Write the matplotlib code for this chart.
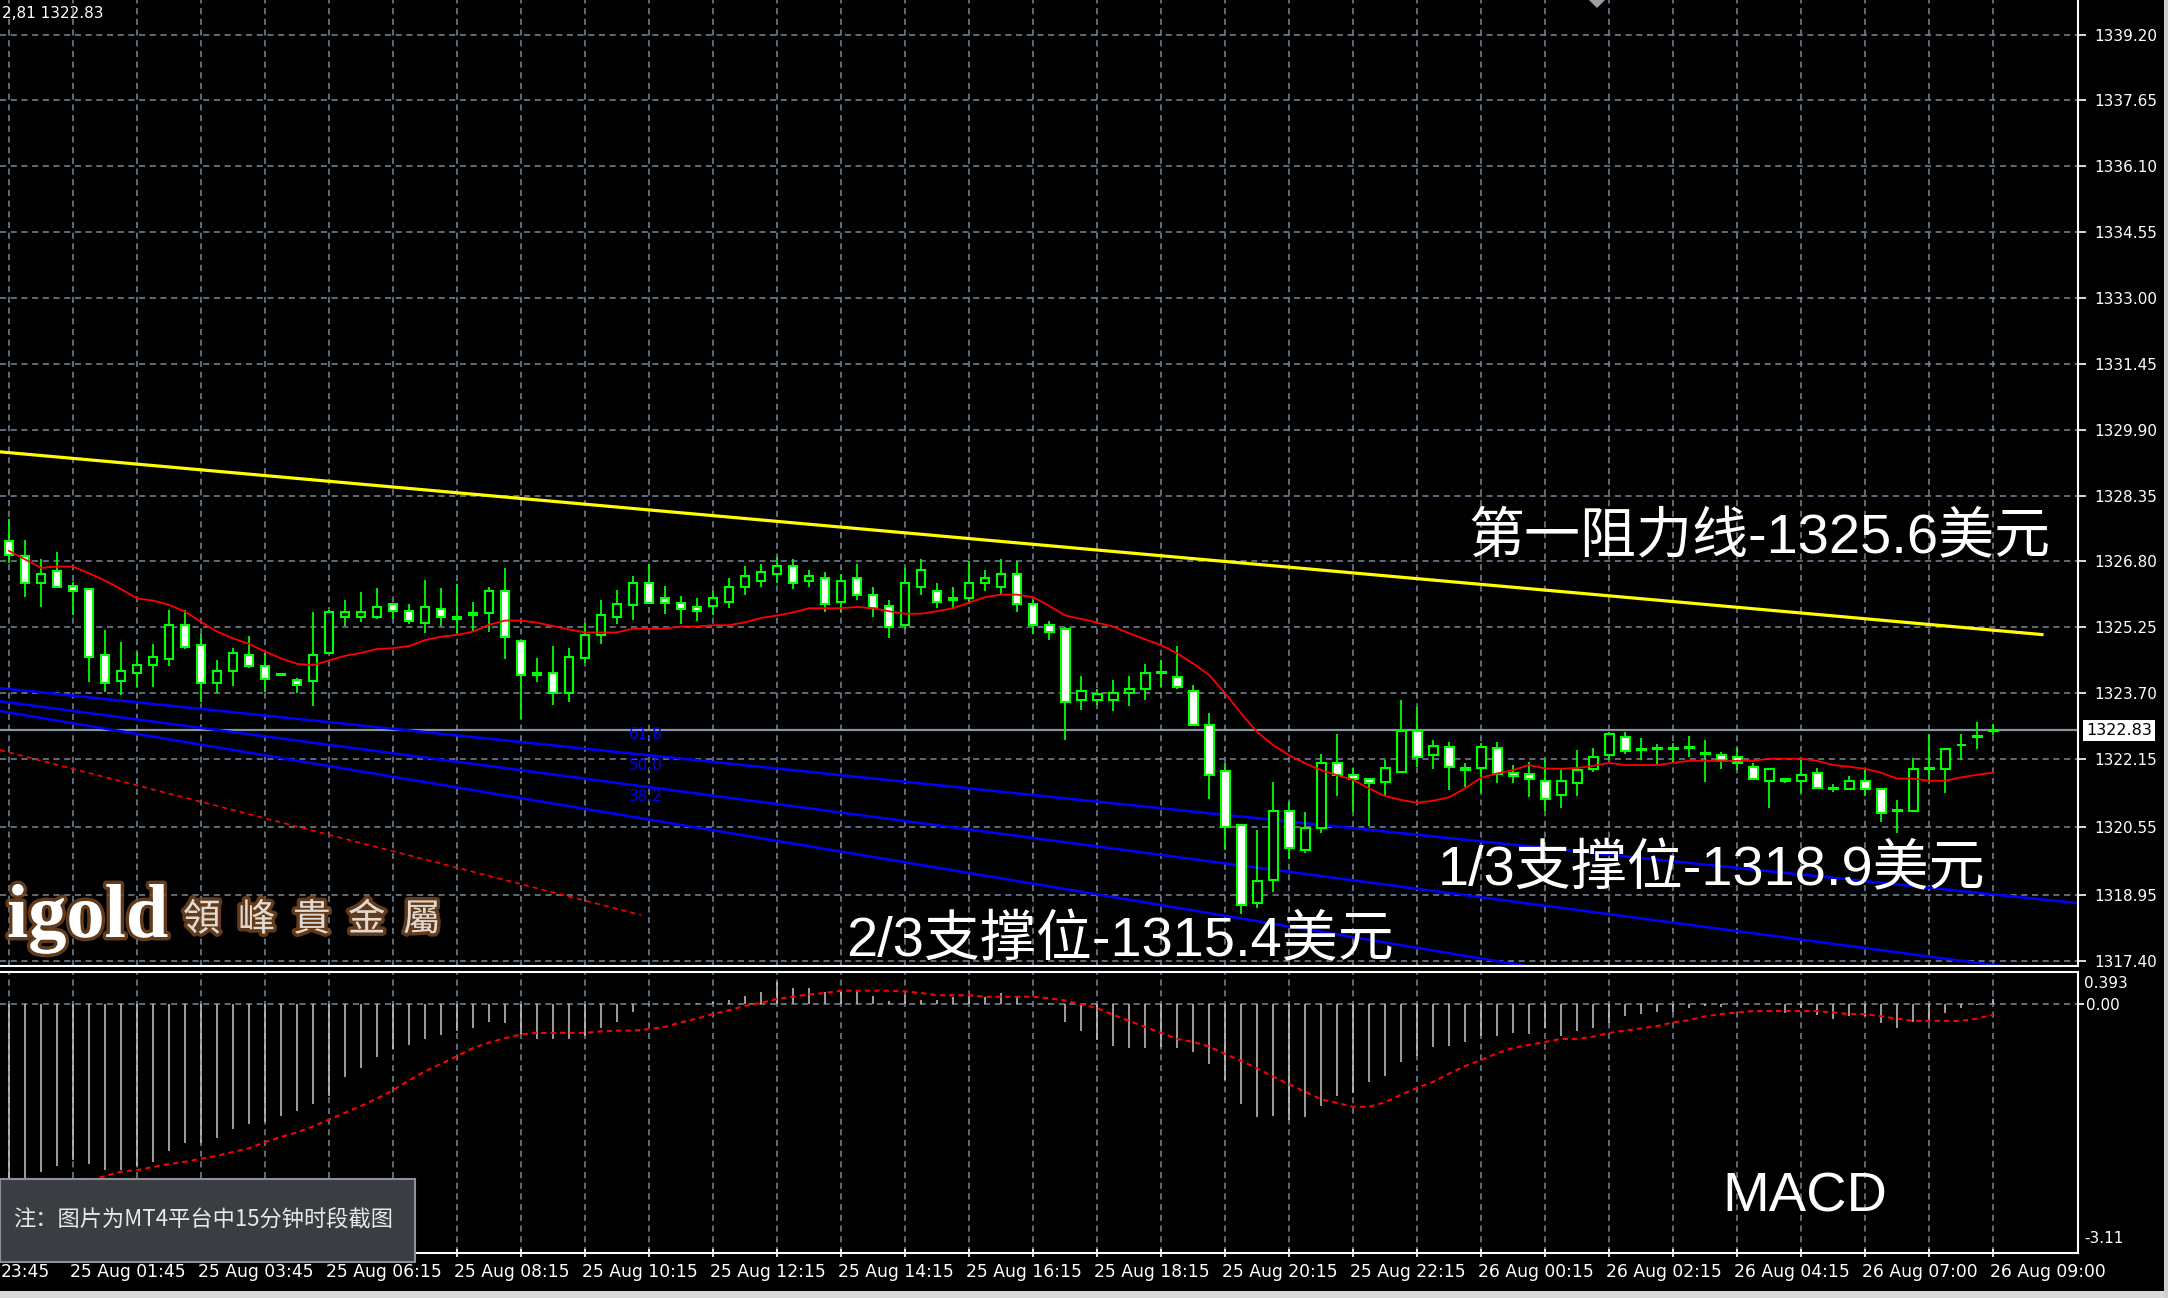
import numpy as np
import matplotlib
matplotlib.use("Agg")
import matplotlib.pyplot as plt
import matplotlib.patheffects as pe
from matplotlib.patches import Rectangle, Polygon
from matplotlib.transforms import blended_transform_factory

W, H = 2168, 1298

# 15 minute candles
opens = [1327.29, 1326.93, 1326.29, 1326.58, 1326.22, 1326.16, 1324.60, 1323.98, 1324.17, 1324.36,
         1324.51, 1325.31, 1324.84, 1323.93, 1324.22, 1324.61, 1324.33, 1324.14, 1324.00, 1323.98,
         1324.64, 1325.49, 1325.49, 1325.49, 1325.79, 1325.64, 1325.35, 1325.69, 1325.45, 1325.55,
         1325.58, 1326.11, 1324.94, 1324.13, 1324.18, 1323.70, 1324.54, 1325.08, 1325.49, 1325.77,
         1326.30, 1325.93, 1325.83, 1325.74, 1325.75, 1325.85, 1326.20, 1326.35, 1326.50, 1326.70,
         1326.35, 1326.40, 1325.85, 1326.40, 1326.00, 1325.75, 1325.30, 1326.20, 1326.10, 1325.90,
         1325.95, 1326.30, 1326.20, 1326.50, 1325.80, 1325.30, 1325.20, 1323.55, 1323.54, 1323.55,
         1323.70, 1323.79, 1324.17, 1324.09, 1323.76, 1322.95, 1321.87, 1320.60, 1318.77, 1319.30,
         1320.93, 1320.02, 1320.52, 1322.06, 1321.77, 1321.69, 1321.62, 1321.85, 1322.82, 1322.24,
         1322.44, 1321.90, 1321.93, 1322.40, 1321.83, 1321.81, 1321.64, 1321.30, 1321.58, 1321.91,
         1322.24, 1322.68, 1322.36, 1322.38, 1322.38, 1322.42, 1322.29, 1322.25, 1322.19, 1321.97,
         1321.63, 1321.69, 1321.63, 1321.83, 1321.45, 1321.44, 1321.64, 1321.45, 1320.93, 1320.92,
         1321.91, 1321.91, 1322.47, 1322.66, 1322.82]
highs = [1327.81, 1327.31, 1326.87, 1327.02, 1326.31, 1326.16, 1325.19, 1324.90, 1324.68, 1324.85,
         1325.66, 1325.66, 1325.09, 1324.48, 1324.76, 1325.05, 1324.64, 1324.16, 1324.05, 1325.61,
         1325.66, 1325.89, 1326.08, 1326.17, 1325.80, 1325.80, 1326.37, 1326.17, 1326.27, 1325.85,
         1326.20, 1326.64, 1324.94, 1324.53, 1324.81, 1324.76, 1325.35, 1325.89, 1326.13, 1326.46,
         1326.74, 1326.22, 1325.99, 1325.93, 1326.10, 1326.40, 1326.70, 1326.75, 1326.90, 1326.85,
         1326.60, 1326.55, 1326.50, 1326.75, 1326.20, 1325.90, 1326.65, 1326.85, 1326.30, 1326.20,
         1326.80, 1326.60, 1326.85, 1326.80, 1325.90, 1325.40, 1325.25, 1324.10, 1323.81, 1324.01,
         1324.10, 1324.39, 1324.48, 1324.81, 1323.89, 1323.24, 1322.06, 1320.60, 1320.48, 1321.62,
         1321.15, 1320.91, 1322.27, 1322.74, 1321.93, 1321.69, 1322.13, 1323.54, 1323.38, 1322.60,
         1322.56, 1322.06, 1322.52, 1322.56, 1322.01, 1322.09, 1322.13, 1321.89, 1322.36, 1322.42,
         1322.79, 1322.79, 1322.64, 1322.50, 1322.52, 1322.69, 1322.60, 1322.32, 1322.40, 1322.06,
         1321.92, 1321.69, 1322.13, 1321.93, 1321.56, 1321.75, 1321.91, 1321.45, 1321.19, 1322.17,
         1322.75, 1322.39, 1322.74, 1323.02, 1322.97]
lows = [1326.76, 1325.96, 1325.72, 1326.19, 1325.54, 1323.97, 1323.74, 1323.66, 1323.85, 1323.84,
        1324.35, 1324.73, 1323.50, 1323.71, 1323.87, 1324.29, 1323.74, 1324.12, 1323.70, 1323.41,
        1324.64, 1325.28, 1325.38, 1325.44, 1325.44, 1325.34, 1325.11, 1325.28, 1325.11, 1325.13,
        1325.15, 1324.50, 1323.09, 1323.96, 1323.42, 1323.49, 1324.40, 1324.86, 1325.33, 1325.42,
        1325.82, 1325.56, 1325.33, 1325.39, 1325.55, 1325.70, 1326.00, 1326.20, 1326.30, 1326.15,
        1326.20, 1325.60, 1325.60, 1325.90, 1325.50, 1325.00, 1325.20, 1326.00, 1325.70, 1325.70,
        1325.80, 1326.10, 1326.00, 1325.60, 1325.10, 1324.95, 1322.60, 1323.30, 1323.42, 1323.27,
        1323.40, 1323.55, 1323.84, 1323.79, 1322.95, 1321.20, 1320.01, 1318.50, 1318.64, 1319.03,
        1319.79, 1319.93, 1320.40, 1321.28, 1320.91, 1320.57, 1321.28, 1321.85, 1321.97, 1321.91,
        1321.42, 1321.50, 1321.34, 1321.58, 1321.58, 1321.25, 1320.93, 1321.01, 1321.28, 1321.85,
        1322.13, 1322.27, 1322.13, 1322.04, 1322.06, 1322.19, 1321.62, 1321.91, 1321.89, 1321.67,
        1321.01, 1321.58, 1321.36, 1321.44, 1321.37, 1321.44, 1321.28, 1320.68, 1320.40, 1320.92,
        1321.66, 1321.34, 1322.13, 1322.38, 1322.72]
closes = [1326.96, 1326.29, 1326.50, 1326.19, 1326.11, 1324.56, 1323.95, 1324.23, 1324.37, 1324.56,
          1325.31, 1324.78, 1323.93, 1324.23, 1324.65, 1324.35, 1324.03, 1324.13, 1323.89, 1324.61,
          1325.60, 1325.60, 1325.60, 1325.74, 1325.64, 1325.39, 1325.74, 1325.49, 1325.49, 1325.58,
          1326.11, 1325.02, 1324.12, 1324.17, 1323.70, 1324.56, 1325.08, 1325.55, 1325.79, 1326.30,
          1325.82, 1325.82, 1325.68, 1325.63, 1325.95, 1326.20, 1326.45, 1326.55, 1326.70, 1326.30,
          1326.45, 1325.80, 1326.35, 1326.00, 1325.70, 1325.25, 1326.30, 1326.60, 1325.85, 1325.95,
          1326.30, 1326.40, 1326.50, 1325.80, 1325.30, 1325.15, 1323.50, 1323.75, 1323.69, 1323.71,
          1323.81, 1324.18, 1324.19, 1323.84, 1322.95, 1321.77, 1320.56, 1318.72, 1319.29, 1320.93,
          1320.05, 1320.52, 1322.06, 1321.77, 1321.67, 1321.58, 1321.93, 1322.82, 1322.21, 1322.46,
          1321.97, 1321.93, 1322.44, 1321.81, 1321.74, 1321.67, 1321.22, 1321.64, 1321.89, 1322.21,
          1322.74, 1322.35, 1322.38, 1322.40, 1322.40, 1322.44, 1322.27, 1322.13, 1322.06, 1321.67,
          1321.92, 1321.63, 1321.78, 1321.48, 1321.46, 1321.64, 1321.44, 1320.87, 1320.94, 1321.92,
          1321.94, 1322.39, 1322.49, 1322.70, 1322.83]

# red moving average as drawn
ma = [1327.05, 1326.85, 1326.65, 1326.68, 1326.68, 1326.52, 1326.35, 1326.15, 1325.93, 1325.88,
      1325.78, 1325.62, 1325.38, 1325.15, 1324.99, 1324.86, 1324.68, 1324.52, 1324.39, 1324.36,
      1324.47, 1324.58, 1324.65, 1324.74, 1324.76, 1324.81, 1324.95, 1325.03, 1325.07, 1325.15,
      1325.31, 1325.41, 1325.41, 1325.36, 1325.28, 1325.20, 1325.13, 1325.13, 1325.13, 1325.22,
      1325.22, 1325.22, 1325.27, 1325.27, 1325.30, 1325.30, 1325.37, 1325.47, 1325.53, 1325.60,
      1325.70, 1325.70, 1325.70, 1325.73, 1325.70, 1325.63, 1325.57, 1325.57, 1325.63, 1325.70,
      1325.83, 1325.96, 1326.02, 1326.02, 1325.96, 1325.76, 1325.53, 1325.45, 1325.36, 1325.27,
      1325.11, 1324.97, 1324.83, 1324.64, 1324.40, 1324.13, 1323.70, 1323.23, 1322.79, 1322.48,
      1322.24, 1322.05, 1321.89, 1321.77, 1321.66, 1321.46, 1321.28, 1321.19, 1321.12, 1321.17,
      1321.25, 1321.46, 1321.71, 1321.81, 1321.89, 1322.01, 1321.93, 1321.92, 1321.94, 1321.99,
      1322.06, 1322.01, 1322.01, 1322.01, 1322.06, 1322.11, 1322.11, 1322.10, 1322.11, 1322.11,
      1322.16, 1322.16, 1322.16, 1322.11, 1322.01, 1321.97, 1321.92, 1321.83, 1321.69, 1321.69,
      1321.64, 1321.64, 1321.72, 1321.78, 1321.83]

# MACD window
macd_hist = [-2.35, -2.31, -2.22, -2.14, -2.06, -2.12, -2.20, -2.20, -2.15, -2.09,
             -1.95, -1.84, -1.84, -1.78, -1.66, -1.59, -1.56, -1.48, -1.42, -1.32,
             -1.22, -0.97, -0.84, -0.70, -0.60, -0.54, -0.46, -0.41, -0.36, -0.31,
             -0.23, -0.25, -0.39, -0.46, -0.46, -0.46, -0.42, -0.31, -0.23, -0.10,
             -0.01, 0.00, 0.01, 0.02, 0.03, 0.06, 0.11, 0.16, 0.29, 0.21,
             0.22, 0.16, 0.18, 0.17, 0.11, 0.04, 0.12, 0.06, 0.06, 0.09,
             0.12, 0.09, 0.15, 0.09, 0.00, 0.02, -0.23, -0.36, -0.47, -0.55,
             -0.58, -0.58, -0.57, -0.58, -0.63, -0.79, -1.00, -1.32, -1.50, -1.48,
             -1.53, -1.50, -1.35, -1.22, -1.18, -1.03, -0.95, -0.76, -0.69, -0.57,
             -0.55, -0.50, -0.42, -0.42, -0.38, -0.39, -0.32, -0.42, -0.36, -0.31,
             -0.25, -0.15, -0.13, -0.10, -0.10, -0.05, -0.02, -0.03, 0.00, 0.01,
             0.01, -0.12, -0.05, -0.14, -0.19, -0.15, -0.16, -0.25, -0.32, -0.24,
             -0.23, -0.12, -0.05, -0.01, 0.07]
macd_signal = [-2.62, -2.57, -2.52, -2.46, -2.40, -2.34, -2.28, -2.22, -2.20, -2.16,
               -2.12, -2.09, -2.05, -2.01, -1.96, -1.91, -1.83, -1.76, -1.70, -1.62,
               -1.53, -1.44, -1.35, -1.25, -1.14, -1.01, -0.89, -0.79, -0.69, -0.58,
               -0.51, -0.45, -0.40, -0.38, -0.38, -0.38, -0.38, -0.36, -0.35, -0.35,
               -0.33, -0.30, -0.24, -0.19, -0.13, -0.08, -0.02, 0.02, 0.07, 0.10,
               0.13, 0.15, 0.18, 0.18, 0.18, 0.18, 0.17, 0.15, 0.12, 0.12,
               0.12, 0.10, 0.10, 0.10, 0.10, 0.08, 0.05, 0.00, -0.05, -0.14,
               -0.22, -0.30, -0.38, -0.46, -0.50, -0.56, -0.66, -0.75, -0.85, -0.96,
               -1.06, -1.16, -1.26, -1.31, -1.36, -1.36, -1.30, -1.20, -1.11, -1.03,
               -0.92, -0.82, -0.74, -0.65, -0.58, -0.54, -0.50, -0.46, -0.46, -0.43,
               -0.38, -0.35, -0.32, -0.29, -0.24, -0.21, -0.16, -0.13, -0.11, -0.09,
               -0.09, -0.09, -0.09, -0.09, -0.11, -0.13, -0.13, -0.16, -0.19, -0.22,
               -0.22, -0.22, -0.22, -0.19, -0.14]

# drawn objects (bar index, price)
resist_x = [-0.56, 127.06]
resist_y = [1329.38, 1325.08]
fan_x = [-0.56, 129.3]
fan_618 = [1323.82, 1318.76]
fan_500 = [1323.51, 1317.04]
fan_382 = [1323.28, 1315.11]
fan_base_x = [-0.56, 39.5]
fan_base_y = [1322.36, 1318.48]
fan_labels = ["61.8", "50.0", "38.2"]
fan_label_y = [1322.72, 1321.99, 1321.26]
last_price = 1322.83

price_levels = [1339.20, 1337.65, 1336.10, 1334.55, 1333.00, 1331.45, 1329.90, 1328.35,
                1326.80, 1325.25, 1323.70, 1322.15, 1320.55, 1318.95, 1317.40]
# first label is the tail of one that runs off the left edge
time_idx = [-0.3, 4, 12, 20, 28, 36, 44, 52, 60, 68, 76, 84, 92, 100, 108, 116, 124]
time_labels = ["23:45", "25 Aug 01:45", "25 Aug 03:45", "25 Aug 06:15", "25 Aug 08:15",
               "25 Aug 10:15", "25 Aug 12:15", "25 Aug 14:15", "25 Aug 16:15", "25 Aug 18:15",
               "25 Aug 20:15", "25 Aug 22:15", "26 Aug 00:15", "26 Aug 02:15", "26 Aug 04:15",
               "26 Aug 07:00", "26 Aug 09:00"]

GREEN = '#00ff00'
GRID = '#778899'
cjk = ['Liberation Sans', 'Noto Sans CJK SC']

fig = plt.figure(figsize=(W / 100, H / 100), dpi=100, facecolor='black')
ax = fig.add_axes([0, (H - 966) / H, 2078 / W, 966 / H], facecolor='black')
axm = fig.add_axes([0, (H - 1253) / H, 2078 / W, 281 / H], facecolor='black')

o = np.array(opens); h = np.array(highs); l = np.array(lows); c = np.array(closes)
idx = np.arange(len(o))
xlim = (-0.5625, 129.31)

# price window
for lv in price_levels:
    ax.axhline(lv, color=GRID, lw=1.1, dashes=(4, 3), zorder=1)
for gx in range(0, 125, 4):
    ax.axvline(gx, color=GRID, lw=1.1, dashes=(4, 3), zorder=1)
    axm.axvline(gx, color=GRID, lw=1.1, dashes=(4, 3), zorder=1)
axm.axhline(0, color=GRID, lw=1.1, dashes=(4, 3), zorder=1)

ax.axhline(last_price, color='#8a949e', lw=1.6, zorder=2)
ax.plot(fan_x, fan_618, color='#0000ff', lw=1.8, zorder=2)
ax.plot(fan_x, fan_500, color='#0000ff', lw=1.8, zorder=2)
ax.plot(fan_x, fan_382, color='#0000ff', lw=1.8, zorder=2)
ax.plot(fan_base_x, fan_base_y, color='#ff0000', lw=1.2, dashes=(3, 2.5), zorder=2)
for t, yy in zip(fan_labels, fan_label_y):
    ax.text(39.8, yy, t, color='#0000ff', fontsize=11, ha='center', va='center', zorder=2)
ax.plot(resist_x, resist_y, color='#ffff00', lw=2.3, zorder=2)

body_lo = np.minimum(o, c)
body_h = np.maximum(np.abs(c - o), 0.02)
ax.vlines(idx, l, h, color=GREEN, lw=1.3, zorder=3)
ax.bar(idx, body_h, bottom=body_lo, width=0.56,
       color=np.where(c >= o, 'black', 'white'), edgecolor=GREEN, linewidth=1.5, zorder=4)
ax.plot(idx, ma, color='#ff0000', lw=1.3, zorder=5)

ax.set_xlim(*xlim)
ax.set_ylim(1317.28, 1340.014)
ax.yaxis.tick_right()
ax.set_yticks(price_levels)
ax.set_yticklabels(['%.2f' % v for v in price_levels])
ax.tick_params(axis='y', colors='white', labelsize=11, length=6, width=1.2, pad=6)
ax.set_xticks([])
for s in ['top', 'left']:
    ax.spines[s].set_visible(False)
for s in ['bottom', 'right']:
    ax.spines[s].set_color('white')
    ax.spines[s].set_linewidth(1.5)

ax.text(1.004, last_price, '1322.83', transform=blended_transform_factory(ax.transAxes, ax.transData),
        ha='left', va='center', color='black', fontsize=11.5, zorder=10, clip_on=False,
        bbox=dict(boxstyle='square,pad=0.18', facecolor='white', edgecolor='none'))

# MACD window
axm.vlines(idx, 0, macd_hist, color='#c8c8c8', lw=1.1, zorder=3)
axm.plot(idx, macd_signal, color='#ff0000', lw=1.5, dashes=(2.5, 2), zorder=4)
axm.set_xlim(*xlim)
axm.set_ylim(-3.30, 0.428)
axm.yaxis.tick_right()
axm.set_yticks([0.0])
axm.set_yticklabels(['0.00'])
axm.tick_params(axis='y', colors='white', labelsize=11, length=4, width=1.2, pad=2)
axm.set_xticks(range(0, 125, 4))
axm.set_xticklabels([])
axm.tick_params(axis='x', colors='white', length=6, width=1.2, direction='inout')
axm.spines['left'].set_visible(False)
for s in ['top', 'bottom', 'right']:
    axm.spines[s].set_color('white')
    axm.spines[s].set_linewidth(1.5)
yt = blended_transform_factory(axm.transAxes, axm.transData)
axm.text(1.003, 0.27, '0.393', transform=yt, color='white', fontsize=11, ha='left', va='center', clip_on=False)
axm.text(1.003, -3.11, '-3.11', transform=yt, color='white', fontsize=11, ha='left', va='center', clip_on=False)

tt = blended_transform_factory(axm.transData, fig.transFigure)
for xi, lab in zip(time_idx, time_labels):
    axm.text(xi - 0.2, 1 - 1272 / H, lab, transform=tt, color='white', fontsize=12.3,
             ha='left', va='center', clip_on=False)

# overlay texts
fig.text(2 / W, 1 - 14 / H, '2,81 1322.83', color='white', fontsize=11, va='center')
fig.text(1468 / W, 1 - 539 / H, '第一阻力线-1325.6美元', color='white', fontsize=40.3, family=cjk, va='center')
fig.text(1438 / W, 1 - 871 / H, '1/3支撑位-1318.9美元', color='white', fontsize=40.3, family=cjk, va='center')
fig.text(846 / W, 1 - 942 / H, '2/3支撑位-1315.4美元', color='white', fontsize=40.3, family=cjk, va='center')
fig.text(1722 / W, 1 - 1198 / H, 'MACD', color='white', fontsize=40.3, family=cjk, va='center')

glow = [pe.withStroke(linewidth=5, foreground='#7a4b22', alpha=0.8)]
fig.text(7 / W, 1 - 937 / H, 'igold', color='white', fontsize=55, family='Liberation Serif',
         weight='bold', va='baseline', path_effects=glow)
for k, ch in enumerate('領峰貴金屬'):
    fig.text((183 + 55 * k) / W, 1 - 920 / H, ch, color='#e2dad2', fontsize=27,
             family='Noto Sans CJK TC', va='center', path_effects=glow)

fig.patches.append(Rectangle((0, (H - 1262) / H), 415 / W, 83 / H, transform=fig.transFigure,
                             facecolor='#3a3d42', edgecolor='#8d9095', lw=1.5))
fig.text(13 / W, 1 - 1220 / H, '注：图片为MT4平台中15分钟时段截图', color='#e8e8e8', fontsize=16,
         family=['Noto Sans CJK SC'], va='center')

fig.patches.append(Polygon([[1589 / W, 1], [1605 / W, 1], [1597 / W, 1 - 8 / H]], closed=True,
                           transform=fig.transFigure, facecolor='#9aa0a6', edgecolor='none'))
fig.patches.append(Rectangle((0, 0), 1, 7 / H, transform=fig.transFigure, facecolor='#d9d9d9', edgecolor='none'))
fig.patches.append(Rectangle((2164 / W, 0), 4 / W, 1, transform=fig.transFigure, facecolor='#cfcfcf', edgecolor='none'))

fig.savefig('out.png', dpi=100, facecolor='black')
